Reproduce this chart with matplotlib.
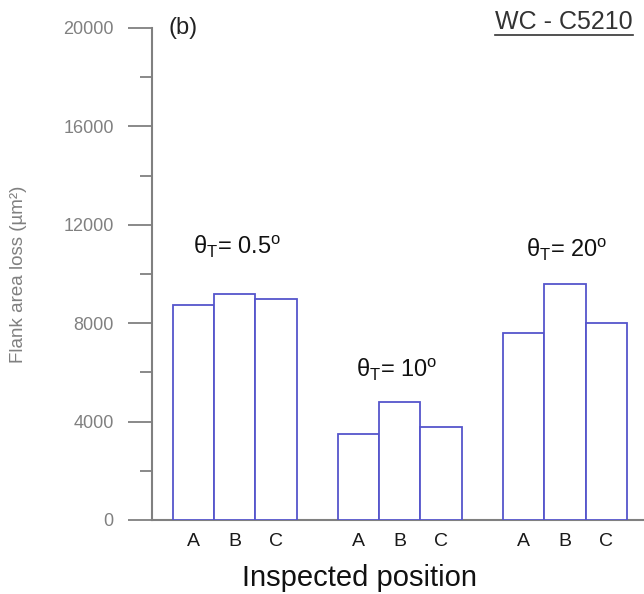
import numpy as np
import matplotlib
matplotlib.use("Agg")
import matplotlib.pyplot as plt
from matplotlib.lines import Line2D
from matplotlib.ticker import MultipleLocator

plt.rcParams['font.family'] = ['Liberation Sans', 'DejaVu Sans']
plt.rcParams['mathtext.fontset'] = 'custom'
plt.rcParams['mathtext.rm'] = 'Liberation Sans'
plt.rcParams['mathtext.it'] = 'Liberation Sans:italic'

# flank area loss (um^2) per inspected position, one list per tilt angle
positions = ["A", "B", "C"]
angles = ["0.5", "10", "20"]
loss_05 = [8740, 9180, 8990]
loss_10 = [3480, 4800, 3790]
loss_20 = [7600, 9590, 8010]
groups = [loss_05, loss_10, loss_20]

# label anchor (x in bar units, y in data units)
label_xy = [(2.06, 11100), (5.93, 6100), (10.05, 10980)]

gray = "#808080"
barcol = "#5555cc"

fig = plt.figure(figsize=(6.44, 5.94), dpi=100)
ax = fig.add_axes([152/644, 74/594, 495.6/644, 492/594])

xt, xl = [], []
for gi, vals in enumerate(groups):
    xs = np.arange(len(vals)) + gi*4 + 1
    ax.bar(xs, vals, width=1.0, facecolor="white", edgecolor=barcol, linewidth=1.3, zorder=3)
    xt.extend(xs)
    xl.extend(positions)
    lx, ly = label_xy[gi]
    ax.text(lx, ly, r"$\mathregular{\theta_T}$= " + angles[gi] + r"$^{\mathregular{o}}$",
            ha="center", va="center", fontsize=17, color="#111111")

ax.set_xlim(0, 12)
ax.set_ylim(0, 20000)
ax.yaxis.set_major_locator(MultipleLocator(4000))
ax.yaxis.set_minor_locator(MultipleLocator(2000))
ax.set_xticks(xt)
ax.set_xticklabels(xl)

for s in ["top", "right"]:
    ax.spines[s].set_visible(False)
for s in ["left", "bottom"]:
    ax.spines[s].set_color(gray)
    ax.spines[s].set_linewidth(1.5)

ax.tick_params(axis="y", which="major", direction="out", length=17, width=1.3,
               color=gray, labelcolor=gray, labelsize=13, pad=10.5)
ax.tick_params(axis="y", which="minor", direction="out", length=8.6, width=1.3, color=gray)
ax.tick_params(axis="x", length=0, pad=9, labelsize=14, labelcolor="#1a1a1a")

ax.set_ylabel("Flank area loss (\u00b5m\u00b2)", fontsize=13.5, color=gray)
ax.yaxis.set_label_coords(-0.252, 0.5)
ax.set_xlabel("Inspected position", fontsize=21, color="#111111")
ax.xaxis.set_label_coords((360-152)/495.6, -0.09)

ax.text(0.033, 1.0, "(b)", transform=ax.transAxes, fontsize=17, ha="left", va="center", color="#222222")
t = fig.text(495/644, 1-29/594, "WC - C5210", fontsize=18, ha="left", va="baseline", color="#333333")

fig.canvas.draw()
bb = t.get_window_extent()
fig.lines.append(Line2D([bb.x0, bb.x1], [bb.y0 - 1, bb.y0 - 1], transform=None, color="#333333", linewidth=1.2))

fig.savefig("out.png", dpi=100)
